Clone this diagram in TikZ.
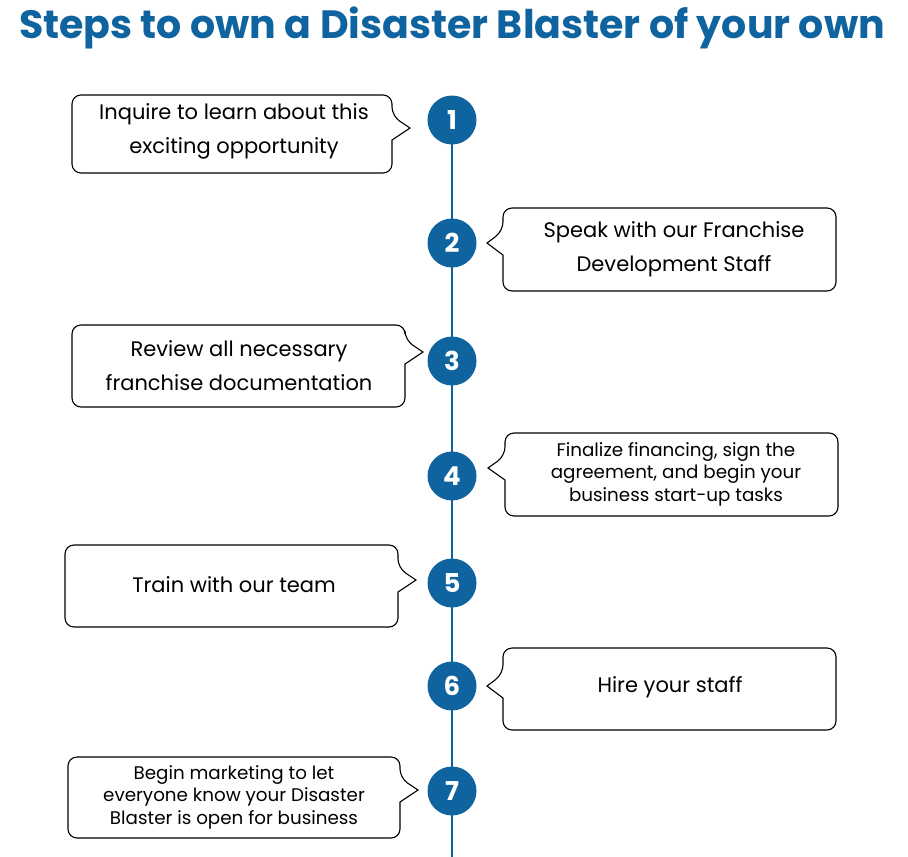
\documentclass[tikz,border=0pt]{standalone}
\usepackage{fontspec}
\setmainfont{Poppins}
\definecolor{dbblue}{HTML}{0F64A0}
\begin{document}
\begin{tikzpicture}[x=1pt,y=-1pt,
  stepc/.style={circle,fill=dbblue,minimum size=49pt,inner sep=0pt,text=white,font=\fontsize{26}{26}\selectfont\bfseries},
  txt/.style={align=center,font=\fontsize{21}{34}\selectfont},
  small/.style={align=center,font=\fontsize{18.3}{22.5}\selectfont},
  bub/.style={draw=black,line width=1.1pt,rounded corners=9pt,fill=white}]
\useasboundingbox (0,0) rectangle (908,857);
\node[font=\fontsize{39.5}{40}\selectfont\bfseries,text=dbblue] (title) at (452,28) {Steps to own a Disaster Blaster of your own};
\coordinate (bot) at (452,857);
\foreach \i/\y in {1/120,2/243,3/361,4/476,5/583,6/686,7/791}{\coordinate (p\i) at (452,\y);}
\draw[dbblue,line width=2.5pt] (p1) -- (bot);
\newcommand\lbub[7]{%
 \draw[bub] (#1,#2) -- (#3,#2) -- (#3,#6-12) [sharp corners]-- (#5,#6) -- (#3,#6+12) [rounded corners=9pt]-- (#3,#4) -- (#1,#4) -- cycle;}
\newcommand\rbub[7]{%
 \draw[bub] (#3,#2) -- (#1,#2) -- (#1,#6-12) [sharp corners]-- (#5,#6) -- (#1,#6+12) [rounded corners=9pt]-- (#1,#4) -- (#3,#4) -- cycle;}
\lbub{72}{95}{392}{173}{410}{128}{}
\rbub{503}{208}{836}{291}{487}{243}{}
\lbub{72}{325}{405}{407}{423}{352}{}
\rbub{505}{433}{838}{516}{488}{468}{}
\lbub{65}{545}{398}{627}{416}{580}{}
\rbub{503}{648}{836}{730}{487}{686}{}
\lbub{68}{757}{400}{838}{418}{790}{}
\node[txt] (b1) at (234,131) {Inquire to learn about this\\exciting opportunity};
\node[txt] (b2) at (674,249) {Speak with our Franchise\\Development Staff};
\node[txt] (b3) at (239,366) {Review all necessary\\franchise documentation};
\node[small] (b4) at (676,474) {Finalize financing, sign the\\agreement, and begin your\\business start-up tasks};
\node[txt] (b5) at (234,585) {Train with our team};
\node[txt] (b6) at (670,687) {Hire your staff};
\node[small] (b7) at (234,797) {Begin marketing to let\\everyone know your Disaster\\Blaster is open for business};
\foreach \i in {1,...,7}{\node[stepc] (c\i) at (p\i) {\i};}
\end{tikzpicture}
\end{document}
